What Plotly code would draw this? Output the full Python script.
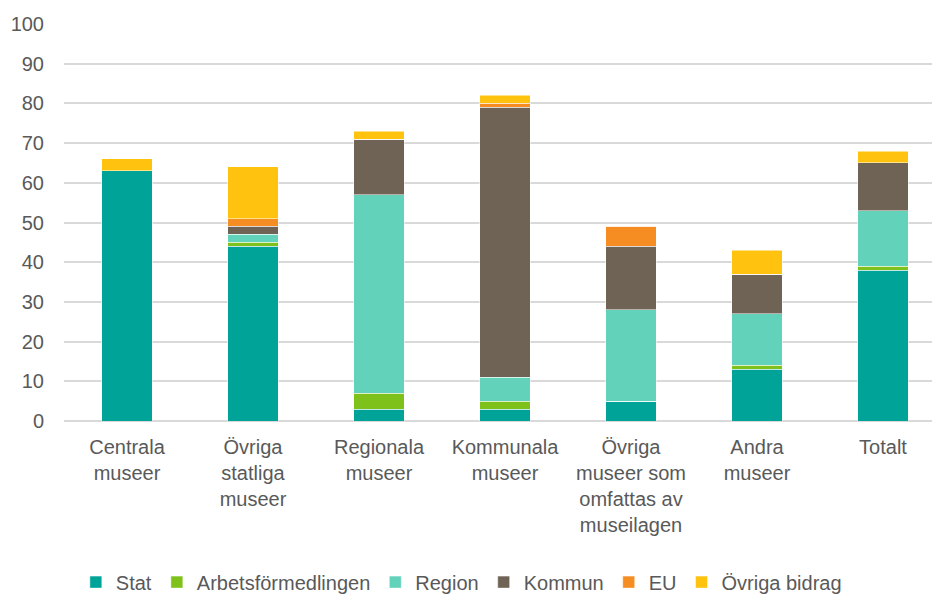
import plotly.graph_objects as go

categories = [
    "Centrala<br>museer",
    "Övriga<br>statliga<br>museer",
    "Regionala<br>museer",
    "Kommunala<br>museer",
    "Övriga<br>museer som<br>omfattas av<br>museilagen",
    "Andra<br>museer",
    "Totalt",
]

stat = [63, 44, 3, 3, 5, 13, 38]
arbetsformedlingen = [0, 1, 4, 2, 0, 1, 1]
region = [0, 2, 50, 6, 23, 13, 14]
kommun = [0, 2, 14, 68, 16, 10, 12]
eu = [0, 2, 0, 1, 5, 0, 0]
ovriga_bidrag = [3, 13, 2, 2, 0, 6, 3]

series = [
    ("Stat", stat, "#00A398"),
    ("Arbetsförmedlingen", arbetsformedlingen, "#7DC11A"),
    ("Region", region, "#62D2BA"),
    ("Kommun", kommun, "#6E6355"),
    ("EU", eu, "#F58D22"),
    ("Övriga bidrag", ovriga_bidrag, "#FFC20E"),
]

fig = go.Figure()
for name, vals, color in series:
    fig.add_trace(go.Bar(
        x=list(range(len(categories))),
        y=vals,
        name=name,
        marker=dict(color=color, line=dict(color="white", width=0.5)),
    ))

fig.update_layout(
    barmode="stack",
    bargap=0.6,
    width=932,
    height=594,
    margin=dict(l=64, r=0, t=24, b=173, autoexpand=False),
    plot_bgcolor="white",
    paper_bgcolor="white",
    font=dict(family="Liberation Sans, Arial, sans-serif", size=20, color="#595959"),
    legend=dict(
        orientation="h",
        xref="container", x=0.495, xanchor="center",
        yref="container", y=0.02, yanchor="middle",
        font=dict(size=20, color="#595959"),
        traceorder="normal",
        itemwidth=30,
    ),
)
fig.update_xaxes(
    tickmode="array",
    tickvals=list(range(len(categories))),
    ticktext=categories,
    range=[-0.5, 6.389],
    showgrid=False,
    showline=False,
    ticks="",
    ticklabelstandoff=12,
)
fig.update_yaxes(
    range=[0, 100],
    dtick=10,
    showgrid=True,
    gridcolor="#D9D9D9",
    gridwidth=2,
    zeroline=True,
    zerolinecolor="#D9D9D9",
    zerolinewidth=2,
    ticks="",
    ticklabelstandoff=19,
)

# the page's default body margin would push the chart 8px right and down
fig.write_html(
    "out.html",
    config={"displayModeBar": False},
    post_script="document.body.style.margin='0';",
)
